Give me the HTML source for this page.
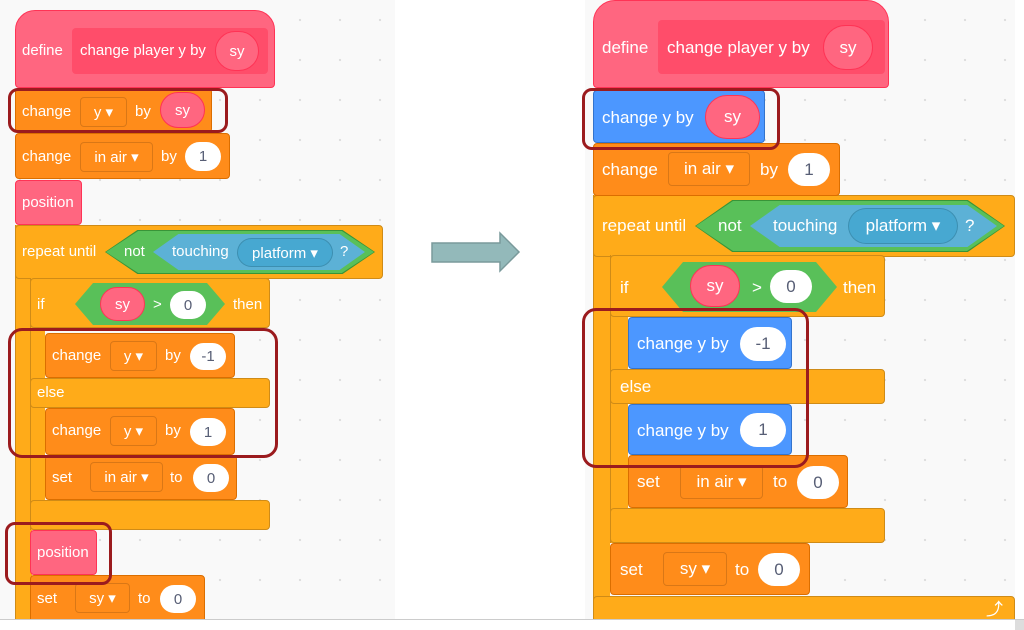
<!DOCTYPE html>
<html><head><meta charset="utf-8"><style>
body{margin:0;width:1024px;height:630px;background:#fff;position:relative;overflow:hidden;font-family:"Liberation Sans",sans-serif}
.a{position:absolute;box-sizing:border-box}
.bg{background-color:#F9F9F9;background-image:radial-gradient(circle,#ddd 1px,transparent 1.3px);background-size:40px 40px}
.o{background:#FF8C1A;border:1px solid #DB6E00;border-radius:4px}
.c{background:#FFAB19;border:1px solid #CF8B17;border-radius:4px}
.arm{border-right:none;border-top:none;border-bottom:none}
.p{background:#FF6680;border:1px solid #FF3355;border-radius:4px}
.bl{background:#4C97FF;border:1px solid #3373CC;border-radius:4px}
.t{position:absolute;color:#fff;white-space:nowrap;line-height:20px;font-size:15px}
.R .t{font-size:17px}
.ov{position:absolute;box-sizing:border-box;background:#fff;border-radius:18px;color:#575E75;text-align:center;display:flex;align-items:center;justify-content:center;font-size:15px}
.R .ov{font-size:17px}
.pk{background:#FF6680;color:#fff;border:1px solid #FF3355}
.dd{position:absolute;box-sizing:border-box;border:1px solid rgba(0,0,0,.15);border-radius:4px;color:#fff;display:flex;align-items:center;justify-content:center;font-size:15px}
.R .dd{font-size:17px}
.hx{position:absolute;clip-path:polygon(0 50%,12% 0,88% 0,100% 50%,88% 100%,12% 100%)}
.r{position:absolute;box-sizing:border-box;border:3px solid #9B1B1E;border-radius:10px}
</style></head><body>
<div class="a bg" style="left:0;top:0;width:395px;height:619px"></div>
<div class="a bg" style="left:585px;top:0;width:430px;height:619px"></div>
<div class="a" style="left:0;top:619px;width:1024px;height:1px;background:#ccc"></div>
<div class="a" style="left:1013px;top:620px;width:11px;height:10px;background:#ddd"></div>

<!-- LEFT -->
<div class="L">
<div class="a p" style="left:15px;top:10px;width:260px;height:78px;border-radius:20px 20px 4px 4px"></div>
<div class="a" style="left:72px;top:28px;width:196px;height:46px;background:#FF4D6A;border-radius:4px"></div>
<div class="t" style="left:22px;top:41px">define</div>
<div class="t" style="left:80px;top:41px">change player y by</div>
<div class="ov pk" style="left:215px;top:31px;width:44px;height:40px;border-radius:20px">sy</div>

<div class="a c arm" style="left:15px;top:225px;width:17px;height:395px;border-radius:0"></div>
<div class="a c" style="left:15px;top:225px;width:368px;height:54px"></div>
<div class="t" style="left:22px;top:242px">repeat until</div>
<div class="hx" style="left:105px;top:230px;width:270px;height:44px;background:#389438"></div>
<div class="hx" style="left:106px;top:231px;width:268px;height:42px;background:#59C059"></div>
<div class="t" style="left:124px;top:242px">not</div>
<div class="hx" style="left:153px;top:234px;width:212px;height:36px;background:#5CB1D6"></div>
<div class="t" style="left:172px;top:242px">touching</div>
<div class="dd" style="left:237px;top:238px;width:96px;height:29px;border-radius:15px;background:#47A8D1">platform ▾</div>
<div class="t" style="left:340px;top:242px">?</div>

<div class="a o" style="left:15px;top:88px;width:197px;height:45px"></div>
<div class="t" style="left:22px;top:102px">change</div>
<div class="dd" style="left:80px;top:97px;width:47px;height:30px">y ▾</div>
<div class="t" style="left:135px;top:102px">by</div>
<div class="ov pk" style="left:160px;top:92px;width:45px;height:36px">sy</div>

<div class="a o" style="left:15px;top:133px;width:215px;height:46px"></div>
<div class="t" style="left:22px;top:147px">change</div>
<div class="dd" style="left:80px;top:142px;width:73px;height:30px">in air ▾</div>
<div class="t" style="left:161px;top:147px">by</div>
<div class="ov" style="left:185px;top:142px;width:36px;height:29px">1</div>

<div class="a p" style="left:15px;top:180px;width:67px;height:45px"></div>
<div class="t" style="left:22px;top:193px">position</div>

<div class="a c arm" style="left:30px;top:278px;width:15px;height:252px;border-radius:0"></div>
<div class="a c" style="left:30px;top:278px;width:240px;height:50px"></div>
<div class="t" style="left:37px;top:295px">if</div>
<div class="hx" style="left:75px;top:283px;width:150px;height:42px;background:#59C059"></div>
<div class="ov pk" style="left:100px;top:287px;width:45px;height:34px">sy</div>
<div class="t" style="left:153px;top:295px">&gt;</div>
<div class="ov" style="left:170px;top:291px;width:36px;height:28px">0</div>
<div class="t" style="left:233px;top:295px">then</div>

<div class="a o" style="left:45px;top:333px;width:190px;height:45px"></div>
<div class="t" style="left:52px;top:346px">change</div>
<div class="dd" style="left:110px;top:341px;width:47px;height:30px">y ▾</div>
<div class="t" style="left:165px;top:346px">by</div>
<div class="ov" style="left:190px;top:343px;width:36px;height:27px">-1</div>

<div class="a c" style="left:30px;top:378px;width:240px;height:30px"></div>
<div class="t" style="left:37px;top:383px">else</div>

<div class="a o" style="left:45px;top:408px;width:190px;height:47px"></div>
<div class="t" style="left:52px;top:421px">change</div>
<div class="dd" style="left:110px;top:416px;width:47px;height:30px">y ▾</div>
<div class="t" style="left:165px;top:421px">by</div>
<div class="ov" style="left:190px;top:418px;width:36px;height:28px">1</div>

<div class="a o" style="left:45px;top:455px;width:192px;height:45px"></div>
<div class="t" style="left:52px;top:468px">set</div>
<div class="dd" style="left:90px;top:462px;width:73px;height:30px">in air ▾</div>
<div class="t" style="left:170px;top:468px">to</div>
<div class="ov" style="left:193px;top:464px;width:36px;height:28px">0</div>

<div class="a c" style="left:30px;top:500px;width:240px;height:30px"></div>

<div class="a p" style="left:30px;top:530px;width:67px;height:45px"></div>
<div class="t" style="left:37px;top:543px">position</div>

<div class="a o" style="left:30px;top:575px;width:175px;height:50px"></div>
<div class="t" style="left:37px;top:589px">set</div>
<div class="dd" style="left:75px;top:583px;width:55px;height:30px">sy ▾</div>
<div class="t" style="left:138px;top:589px">to</div>
<div class="ov" style="left:160px;top:585px;width:36px;height:28px">0</div>

<div class="r" style="left:8px;top:88px;width:220px;height:45px"></div>
<div class="r" style="left:8px;top:328px;width:270px;height:130px;border-radius:14px"></div>
<div class="r" style="left:5px;top:522px;width:107px;height:63px"></div>
<div class="a" style="left:0;top:619px;width:395px;height:11px;background:#fff;border-top:1px solid #ccc"></div>
</div>

<!-- ARROW -->
<svg class="a" style="left:425px;top:228px" width="100" height="50"><polygon points="7,15 75,15 75,5 94,24 75,43 75,34 7,34" fill="#93B9BA" stroke="#7A9A9B" stroke-width="1.5"/></svg>

<!-- RIGHT -->
<div class="R">
<div class="a p" style="left:593px;top:0;width:296px;height:88px;border-radius:22px 22px 4px 4px"></div>
<div class="a" style="left:658px;top:20px;width:227px;height:54px;background:#FF4D6A;border-radius:4px"></div>
<div class="t" style="left:602px;top:38px">define</div>
<div class="t" style="left:667px;top:38px">change player y by</div>
<div class="ov pk" style="left:823px;top:25px;width:50px;height:45px;border-radius:23px;background:#FF6680">sy</div>

<div class="a c arm" style="left:593px;top:195px;width:17px;height:425px;border-radius:0"></div>
<div class="a c" style="left:593px;top:195px;width:422px;height:62px"></div>
<div class="t" style="left:602px;top:216px">repeat until</div>
<div class="hx" style="left:695px;top:200px;width:310px;height:52px;background:#389438"></div>
<div class="hx" style="left:696px;top:201px;width:308px;height:50px;background:#59C059"></div>
<div class="t" style="left:718px;top:216px">not</div>
<div class="hx" style="left:750px;top:205px;width:247px;height:42px;background:#5CB1D6"></div>
<div class="t" style="left:773px;top:216px">touching</div>
<div class="dd" style="left:848px;top:208px;width:110px;height:36px;border-radius:18px;background:#47A8D1">platform ▾</div>
<div class="t" style="left:965px;top:216px">?</div>

<div class="a bl" style="left:593px;top:90px;width:172px;height:53px"></div>
<div class="t" style="left:602px;top:108px">change y by</div>
<div class="ov pk" style="left:705px;top:95px;width:55px;height:44px;border-radius:22px">sy</div>

<div class="a o" style="left:593px;top:143px;width:247px;height:53px"></div>
<div class="t" style="left:602px;top:160px">change</div>
<div class="dd" style="left:668px;top:152px;width:82px;height:34px">in air ▾</div>
<div class="t" style="left:760px;top:160px">by</div>
<div class="ov" style="left:788px;top:153px;width:42px;height:33px">1</div>

<div class="a c arm" style="left:610px;top:255px;width:18px;height:288px;border-radius:0"></div>
<div class="a c" style="left:610px;top:255px;width:275px;height:62px"></div>
<div class="t" style="left:620px;top:278px">if</div>
<div class="hx" style="left:662px;top:262px;width:175px;height:50px;background:#59C059"></div>
<div class="ov pk" style="left:690px;top:265px;width:50px;height:42px;border-radius:21px">sy</div>
<div class="t" style="left:752px;top:278px">&gt;</div>
<div class="ov" style="left:770px;top:270px;width:42px;height:33px">0</div>
<div class="t" style="left:843px;top:278px">then</div>

<div class="a bl" style="left:628px;top:317px;width:164px;height:52px"></div>
<div class="t" style="left:637px;top:334px">change y by</div>
<div class="ov" style="left:740px;top:327px;width:46px;height:34px">-1</div>

<div class="a c" style="left:610px;top:369px;width:275px;height:35px"></div>
<div class="t" style="left:620px;top:377px">else</div>

<div class="a bl" style="left:628px;top:404px;width:164px;height:51px"></div>
<div class="t" style="left:637px;top:421px">change y by</div>
<div class="ov" style="left:740px;top:413px;width:46px;height:34px">1</div>

<div class="a o" style="left:628px;top:455px;width:220px;height:53px"></div>
<div class="t" style="left:637px;top:472px">set</div>
<div class="dd" style="left:680px;top:465px;width:83px;height:34px">in air ▾</div>
<div class="t" style="left:773px;top:472px">to</div>
<div class="ov" style="left:797px;top:466px;width:42px;height:33px">0</div>

<div class="a c" style="left:610px;top:508px;width:275px;height:35px"></div>

<div class="a o" style="left:610px;top:543px;width:200px;height:52px"></div>
<div class="t" style="left:620px;top:560px">set</div>
<div class="dd" style="left:663px;top:552px;width:64px;height:34px">sy ▾</div>
<div class="t" style="left:735px;top:560px">to</div>
<div class="ov" style="left:758px;top:553px;width:42px;height:33px">0</div>

<div class="a c" style="left:593px;top:596px;width:422px;height:30px"></div>
<div class="t" style="left:986px;top:600px;font-size:17px">⤴</div>

<div class="r" style="left:582px;top:88px;width:198px;height:62px"></div>
<div class="r" style="left:582px;top:308px;width:227px;height:160px;border-radius:14px"></div>
<div class="a" style="left:585px;top:619px;width:430px;height:11px;background:#fff;border-top:1px solid #ccc"></div>
</div>
</body></html>
